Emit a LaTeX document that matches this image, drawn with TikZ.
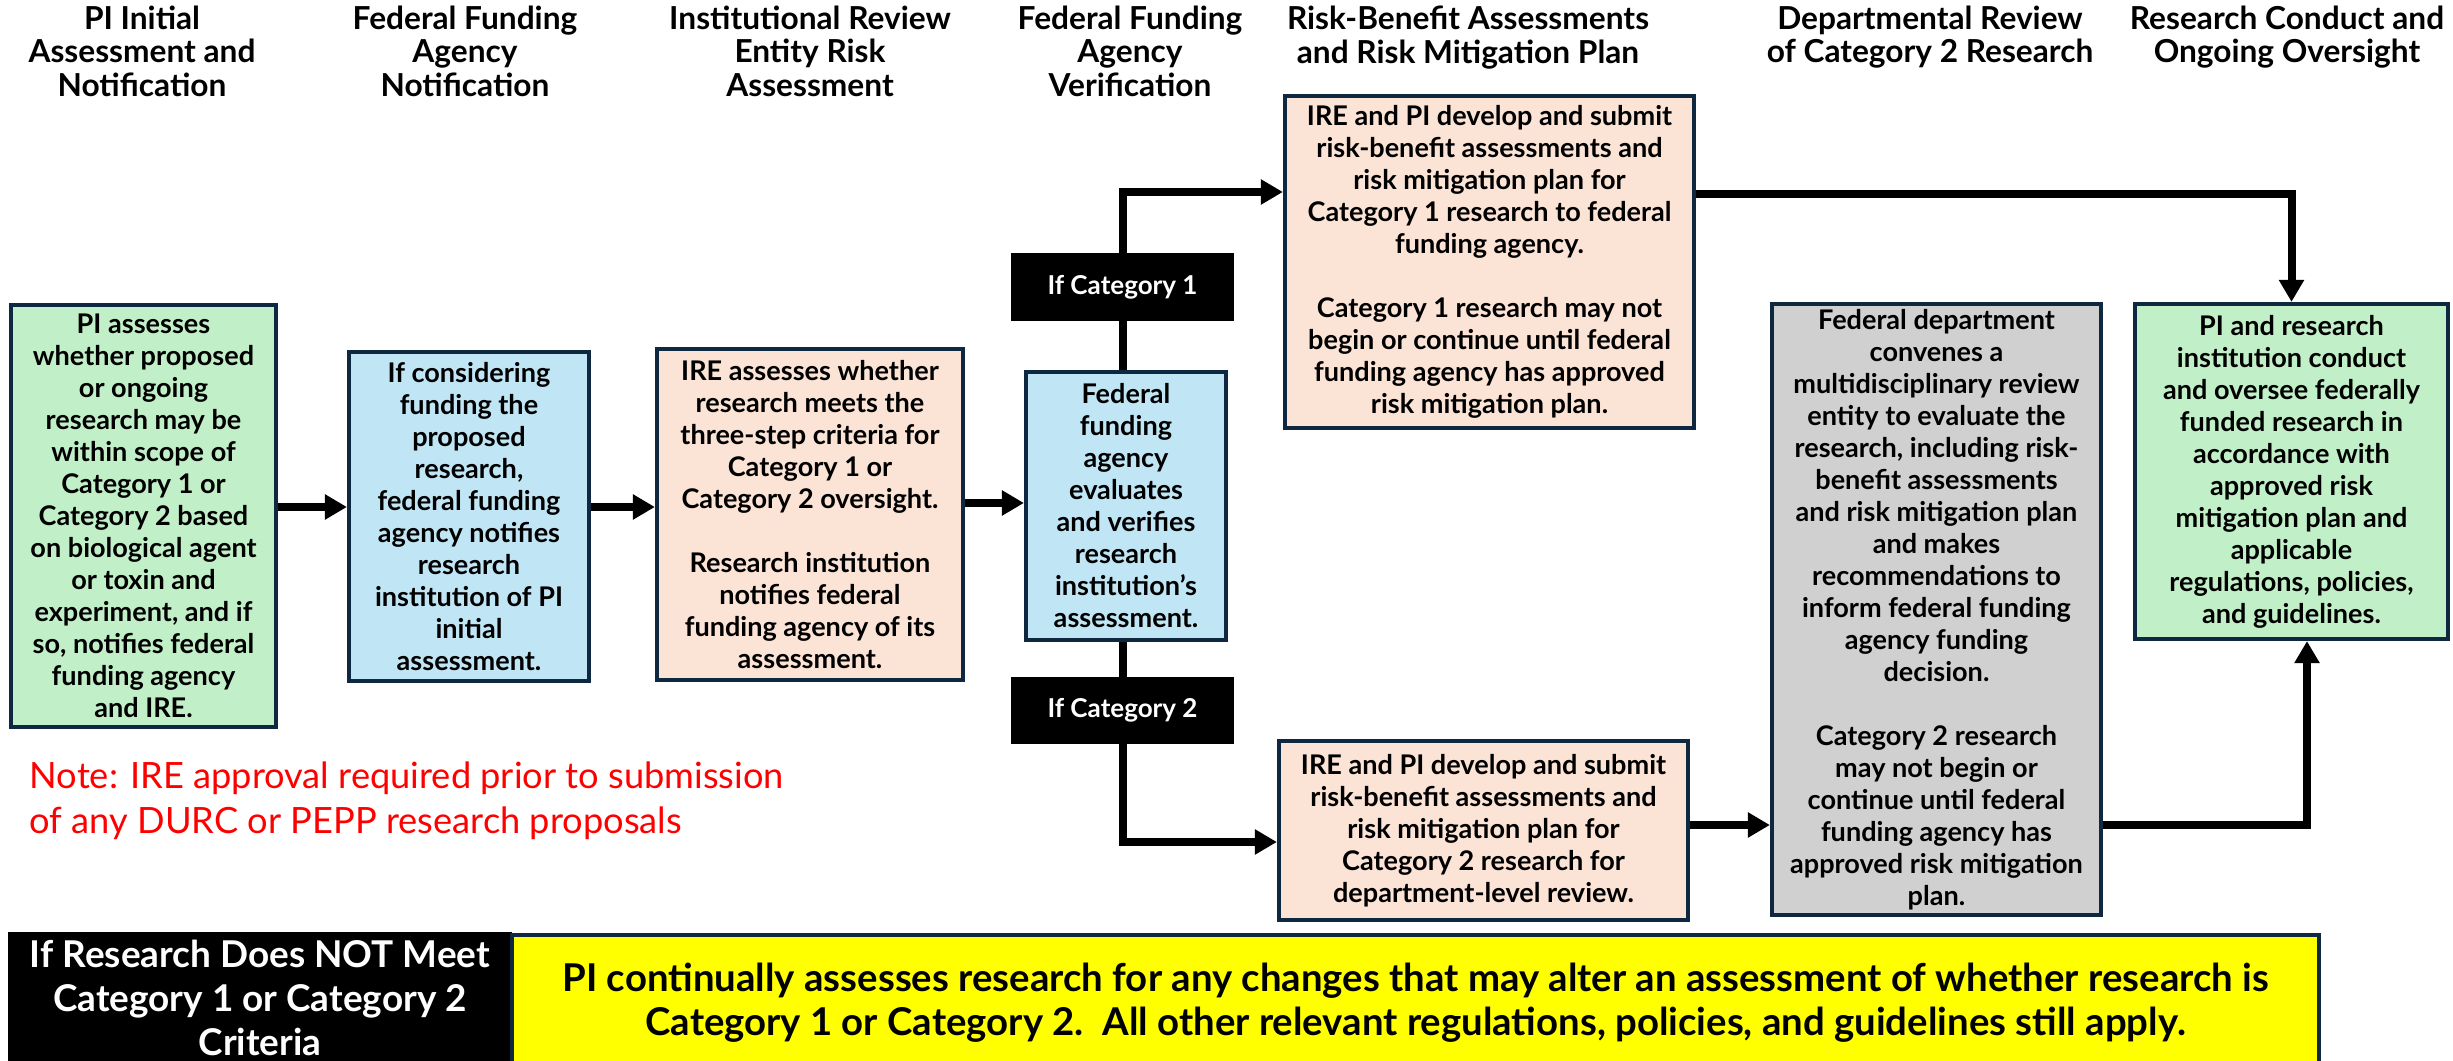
\documentclass[tikz,border=0pt]{standalone}
\usepackage{fontspec}
\setmainfont{Lato}
\usetikzlibrary{arrows.meta,calc}
\definecolor{cgreen}{HTML}{C1F0C8}
\definecolor{cblue}{HTML}{C0E6F5}
\definecolor{csalmon}{HTML}{FBE3D6}
\definecolor{cgray}{HTML}{D0D0D0}
\definecolor{cnavy}{HTML}{0E2841}
\definecolor{cyellow}{HTML}{FFFF00}
\definecolor{cred}{HTML}{FF0000}
\newcommand\bodyf{\fontsize{7.7pt}{9.1pt}\selectfont\bfseries}
\newcommand\headf{\fontsize{9pt}{9.6pt}\selectfont\bfseries}
\newcommand\catf{\fontsize{7.4pt}{9pt}\selectfont\bfseries}
\newcommand\notef{\fontsize{10.3pt}{12.9pt}\selectfont}
\newcommand\bigf{\fontsize{10.5pt}{12.6pt}\selectfont\bfseries}
\newcommand\yelf{\fontsize{10.9pt}{12.6pt}\selectfont\bfseries}
\tikzset{
  box/.style={draw=cnavy, line width=0.04cm, inner sep=0pt, align=center, font=\bodyf},
  head/.style={anchor=north, inner sep=0pt, align=center, font=\headf},
  catbox/.style={fill=black, draw=black, inner sep=0pt, text=white, font=\catf},
  conn/.style={line width=0.08cm, black},
  arr/.style={conn, -{Triangle[length=0.22cm, width=0.24cm]}},
}
\begin{document}
\begin{tikzpicture}[x=0.01cm, y=-0.01cm]
\useasboundingbox (0,0) rectangle (2453,1061);
\fill[white] (0,0) rectangle (2453,1061);

% headers
\node[head] (h1) at (142,5) {PI Initial\\Assessment and\\Notification};
\node[head] (h2) at (465,5) {Federal Funding\\Agency\\Notification};
\node[head] (h3) at (810,5) {Institutional Review\\Entity Risk\\Assessment};
\node[head] (h4) at (1130,5) {Federal Funding\\Agency\\Verification};
\node[head] (h5) at (1468,5) {Risk-Benefit Assessments\\and Risk Mitigation Plan};
\node[head] (h6) at (1930,5) {Departmental Review\\of Category 2 Research};
\node[head] (h7) at (2287,5) {Research Conduct and\\Ongoing Oversight};

% boxes
\node[box, fill=cgreen, minimum width=2.65cm, minimum height=4.22cm] (b1) at (143.5,516)
 {PI assesses\\whether proposed\\or ongoing\\research may be\\within scope of\\Category 1 or\\Category 2 based\\on biological agent\\or toxin and\\experiment, and if\\so, notifies federal\\funding agency\\and IRE.};
\node[box, fill=cblue, minimum width=2.40cm, minimum height=3.29cm] (b2) at (469,516.5)
 {If considering\\funding the\\proposed\\research,\\federal funding\\agency notifies\\research\\institution of PI\\initial\\assessment.};
\node[box, fill=csalmon, minimum width=3.06cm, minimum height=3.31cm] (b3) at (810,514.5)
 {IRE assesses whether\\research meets the\\three-step criteria for\\Category 1 or\\Category 2 oversight.\\[9.1pt]Research institution\\notifies federal\\funding agency of its\\assessment.};
\node[box, fill=cblue, minimum width=2.00cm, minimum height=2.68cm] (b4) at (1126,506)
 {Federal\\funding\\agency\\evaluates\\and verifies\\research\\institution’s\\assessment.};
\node[box, fill=csalmon, minimum width=4.09cm, minimum height=3.32cm] (b5) at (1489.5,262)
 {IRE and PI develop and submit\\risk-benefit assessments and\\risk mitigation plan for\\Category 1 research to federal\\funding agency.\\[9.1pt]Category 1 research may not\\begin or continue until federal\\funding agency has approved\\risk mitigation plan.};
\node[box, fill=csalmon, minimum width=4.09cm, minimum height=1.79cm] (b6) at (1483.5,830.5)
 {IRE and PI develop and submit\\risk-benefit assessments and\\risk mitigation plan for\\Category 2 research for\\department-level review.};
\node[box, fill=cgray, minimum width=3.29cm, minimum height=6.11cm] (g) at (1936.5,609.5)
 {Federal department\\convenes a\\multidisciplinary review\\entity to evaluate the\\research, including risk-\\benefit assessments\\and risk mitigation plan\\and makes\\recommendations to\\inform federal funding\\agency funding\\decision.\\[9.1pt]Category 2 research\\may not begin or\\continue until federal\\funding agency has\\approved risk mitigation\\plan.};
\node[box, fill=cgreen, minimum width=3.13cm, minimum height=3.35cm] (b7) at (2291.5,471.5)
 {PI and research\\institution conduct\\and oversee federally\\funded research in\\accordance with\\approved risk\\mitigation plan and\\applicable\\regulations, policies,\\and guidelines.};

% category labels
\node[catbox, minimum width=2.21cm, minimum height=0.66cm] (cat1) at (1122.5,287) {If Category 1};
\node[catbox, minimum width=2.21cm, minimum height=0.65cm] (cat2) at (1122.5,710.5) {If Category 2};

% note
\node[anchor=north west, inner sep=0pt, align=left, text=cred, font=\notef] (note) at (29,761)
 {Note: IRE approval required prior to submission\\of any DURC or PEPP research proposals};

% bottom bar
\node[fill=black, draw=black, inner sep=0pt, align=center, text=white, font=\bigf,
      minimum width=5.02cm, minimum height=1.30cm] (nomeet) at (260,998)
 {If Research Does NOT Meet\\Category 1 or Category 2\\Criteria};
\node[fill=cyellow, draw=cnavy, line width=0.04cm, inner sep=0pt, align=center, font=\yelf,
      minimum width=18.05cm, minimum height=1.36cm] (cont) at (1415.5,1003)
 {PI continually assesses research for any changes that may alter an assessment of whether research is\\Category 1 or Category 2.\ \ All other relevant regulations, policies, and guidelines still apply.};

% connectors
\coordinate (ya) at (0,507);
\coordinate (yb) at (0,503);
\coordinate (yc1) at (0,192);
\coordinate (yc5) at (0,194);
\coordinate (yc2) at (0,842);
\coordinate (yg) at (0,825);
\draw[arr] (b1.east |- ya) -- (b2.west |- ya);
\draw[arr] (b2.east |- ya) -- (b3.west |- ya);
\draw[arr] (b3.east |- yb) -- (b4.west |- yb);
\draw[conn] (cat1.south) -- (cat1.south |- b4.north);
\draw[arr] (cat1.north) |- (b5.west |- yc1);
\draw[conn] (cat2.north) -- (cat2.north |- b4.south);
\draw[arr] (cat2.south) |- (b6.west |- yc2);
\draw[arr] (b5.east |- yc5) -| (b7.north);
\draw[arr] (b6.east |- yg) -- (g.west |- yg);
\draw[arr] (g.east |- yg) -| ($(b7.south)+(15.5,0)$);
\end{tikzpicture}
\end{document}
